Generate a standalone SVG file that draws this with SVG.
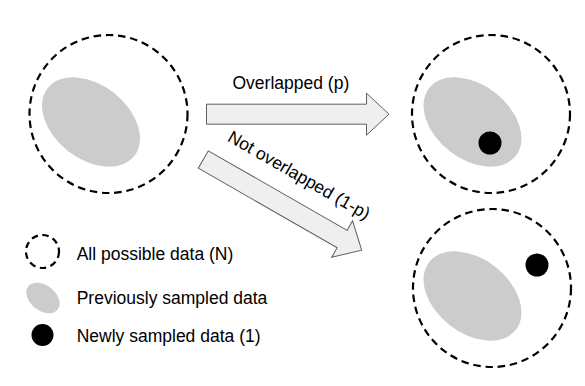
<svg xmlns="http://www.w3.org/2000/svg" width="585" height="386" viewBox="0 0 585 386">
<style>
.all{fill:none;stroke:#000;stroke-width:2.2;stroke-dasharray:7.5 4.8}
.prev{fill:#cccccc}
.new{fill:#000}
.arr{fill:#efefef;stroke:#5f5f5f;stroke-width:1}
text{font-family:"Liberation Sans",Arial,sans-serif;font-size:17.5px;fill:#000}
</style>
<defs>
<polygon id="fatArrow" points="0,-10 160,-10 160,-21 182.5,0 160,21 160,10 0,10"/>
</defs>
<rect width="585" height="386" fill="#fff"/>
<g id="node-before">
<circle class="all" cx="108.5" cy="114" r="79"/>
<ellipse class="prev" cx="91" cy="122" rx="55" ry="37" transform="rotate(38 91 122)"/>
</g>
<g id="node-overlapped">
<circle class="all" cx="491" cy="114" r="79"/>
<ellipse class="prev" cx="472.5" cy="122" rx="55" ry="37" transform="rotate(38 472.5 122)"/>
<circle class="new" cx="490" cy="143" r="11.5"/>
</g>
<g id="node-not-overlapped">
<circle class="all" cx="492" cy="288" r="79"/>
<ellipse class="prev" cx="472.5" cy="296" rx="55" ry="37" transform="rotate(38 472.5 296)"/>
<circle class="new" cx="537" cy="265" r="11.5"/>
</g>
<g id="connectors">
<use href="#fatArrow" class="arr" transform="translate(206.5 114.2)"/>
<use href="#fatArrow" class="arr" transform="translate(203.3 159.5) rotate(29.8)"/>
<text x="232.5" y="88.5">Overlapped (p)</text>
<text transform="translate(226.5 140.5) rotate(29.8)">Not overlapped (1-p)</text>
</g>
<g id="legend">
<circle class="all" cx="42.5" cy="251.5" r="16.5" style="stroke-dasharray:6.5 4.5"/>
<text x="76.7" y="259.5">All possible data (N)</text>
<ellipse class="prev" cx="43" cy="298" rx="18.7" ry="12.6" transform="rotate(38 43 298)"/>
<text x="76.7" y="304.3">Previously sampled data</text>
<circle class="new" cx="42.5" cy="335" r="11"/>
<text x="76.7" y="341.5">Newly sampled data (1)</text>
</g>
</svg>
